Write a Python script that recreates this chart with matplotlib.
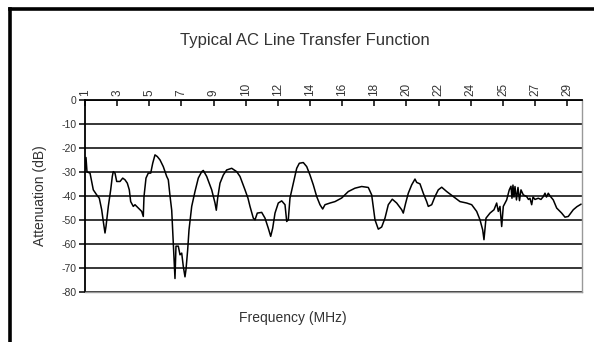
import matplotlib
matplotlib.use("Agg")
import matplotlib.pyplot as plt
from matplotlib.lines import Line2D

plt.rcParams['font.family'] = ['Liberation Sans', 'DejaVu Sans']

# Frequency tick labels (category axis, MHz)
freq_labels = ["1", "3", "5", "7", "9", "10", "12", "14", "16", "18",
               "20", "22", "24", "25", "27", "29"]

# Trace position along the category axis (in tick-index units)
pos = [0.000, 0.031, 0.062, 0.156, 0.258, 0.364, 0.445, 0.519, 0.569, 0.622,
       0.653, 0.725, 0.799, 0.849, 0.880, 0.933, 0.986, 1.089, 1.173, 1.244,
       1.316, 1.378, 1.421, 1.502, 1.555, 1.658, 1.764, 1.813, 1.835, 1.897,
       1.969, 2.044, 2.106, 2.177, 2.249, 2.333, 2.435, 2.541, 2.591, 2.644,
       2.697, 2.746, 2.799, 2.830, 2.902, 2.955, 3.008, 3.057, 3.110, 3.141,
       3.194, 3.235, 3.319, 3.421, 3.524, 3.630, 3.680, 3.785, 3.941, 4.044,
       4.084, 4.127, 4.199, 4.302, 4.407, 4.563, 4.718, 4.821, 4.977, 5.070,
       5.132, 5.235, 5.288, 5.359, 5.496, 5.599, 5.701, 5.776, 5.838, 5.910,
       6.012, 6.118, 6.221, 6.274, 6.323, 6.376, 6.479, 6.585, 6.666, 6.790,
       6.896, 6.998, 7.101, 7.207, 7.309, 7.393, 7.465, 7.620, 7.776, 7.984,
       8.190, 8.398, 8.606, 8.812, 8.917, 9.020, 9.123, 9.228, 9.331, 9.434,
       9.558, 9.695, 9.851, 9.900, 9.975, 10.056, 10.162, 10.264, 10.317, 10.420,
       10.522, 10.628, 10.678, 10.784, 10.886, 10.989, 11.095, 11.250, 11.456, 11.664,
       11.872, 12.028, 12.183, 12.286, 12.370, 12.410, 12.473, 12.597, 12.722, 12.805,
       12.855, 12.908, 12.961, 13.011, 13.116, 13.197, 13.250, 13.281, 13.312, 13.343,
       13.375, 13.421, 13.468, 13.515, 13.561, 13.633, 13.738, 13.794, 13.841, 13.894,
       13.935, 13.997, 14.099, 14.183, 14.255, 14.308, 14.354, 14.410, 14.463, 14.566,
       14.672, 14.827, 14.930, 15.032, 15.188, 15.303, 15.427]

# Attenuation (dB)
atten = [-29, -24, -30, -30.5, -37.5, -39.6, -41, -45.8, -50.7, -55.5,
         -52.8, -44.4, -37.5, -31.9, -29.9, -30.5, -34, -34, -32.6, -33.3,
         -34.7, -37.5, -42.4, -44.4, -43.7, -45.1, -46.5, -48.6, -40.3, -32.6,
         -30.5, -30.5, -26.4, -22.9, -23.6, -25, -27.8, -31.9, -33.3, -40,
         -46, -59.7, -74.5, -61, -61, -64.6, -63.9, -69.4, -73.8, -70.8,
         -62.5, -54.2, -44.4, -38.2, -32.6, -29.9, -29.4, -31.9, -37.5, -43,
         -46, -40.9, -34.7, -31.3, -29.2, -28.5, -29.9, -31.9, -37.5, -41,
         -44.4, -49.3, -50, -47.2, -46.9, -49.3, -53.5, -56.9, -53.5, -47.2,
         -43, -42.1, -43.7, -50.7, -50, -40.9, -34.7, -28.5, -26.4, -26.1,
         -27.8, -31.3, -35.4, -40.3, -43.7, -45.5, -43.7, -43, -42.4, -40.9,
         -38.2, -36.8, -36.1, -36.5, -39.6, -50, -53.9, -53, -49.3, -43.7,
         -41.4, -43, -45.8, -47.2, -43, -38.9, -35.4, -33, -34.4, -35,
         -38.9, -42.4, -44.4, -43.7, -40.3, -37.5, -36.4, -38.2, -40.3, -42.4,
         -43, -43.7, -46.5, -50, -54.2, -58.3, -49.3, -47.2, -45.8, -43,
         -46.5, -44.4, -52.8, -44.4, -41.7, -37.5, -36, -41, -35.5, -40.5,
         -36.1, -41.7, -36.5, -42, -37.5, -39.6, -40.3, -41.5, -41, -43.7,
         -40.5, -41.5, -41, -41.5, -40.3, -38.9, -40.5, -38.9, -40, -41.7,
         -45.1, -47.2, -48.9, -48.6, -45.8, -44.5, -43.5]

y_ticks = [0, -10, -20, -30, -40, -50, -60, -70, -80]

fig = plt.figure(figsize=(5.94, 3.42), dpi=100)
ax = fig.add_axes([0.1431, 0.1471, 0.8362, 0.5605])

ax.plot(pos, atten, color='black', linewidth=1.1)

ax.set_xlim(0, 15.45)
ax.set_ylim(-80, 0)

ax.set_yticks(y_ticks)
ax.set_yticklabels([str(v) for v in y_ticks], fontsize=7.5, color='#333333')
ax.yaxis.grid(True, color='black', linewidth=1.1)
ax.tick_params(axis='y', direction='out', length=4, width=1.1, color='black', pad=2)

ax.xaxis.tick_top()
ax.set_xticks(range(len(freq_labels)))
ax.set_xticklabels(freq_labels, rotation=90, fontsize=8.5, color='#333333')
ax.tick_params(axis='x', direction='in', length=4.5, width=1.1, color='black', pad=3)

for side in ['top', 'left']:
    ax.spines[side].set_color('black')
    ax.spines[side].set_linewidth(1.3)
for side in ['bottom', 'right']:
    ax.spines[side].set_color('#999999')
    ax.spines[side].set_linewidth(1.0)

fig.text(0.513, 0.883, "Typical AC Line Transfer Function", ha='center', va='center',
         fontsize=12, color='#333333')
fig.text(0.067, 0.427, "Attenuation (dB)", ha='center', va='center', rotation=90,
         fontsize=10, color='#333333')
fig.text(0.493, 0.07, "Frequency (MHz)", ha='center', va='center',
         fontsize=10, color='#333333')

# outer frame (top and left edges)
fig.add_artist(Line2D([0.016, 0.016], [0.0, 0.974], color='black', linewidth=2.6,
                      transform=fig.transFigure, solid_capstyle='projecting'))
fig.add_artist(Line2D([0.016, 1.0], [0.974, 0.974], color='black', linewidth=2.6,
                      transform=fig.transFigure, solid_capstyle='projecting'))

fig.savefig("out.png", dpi=100)
